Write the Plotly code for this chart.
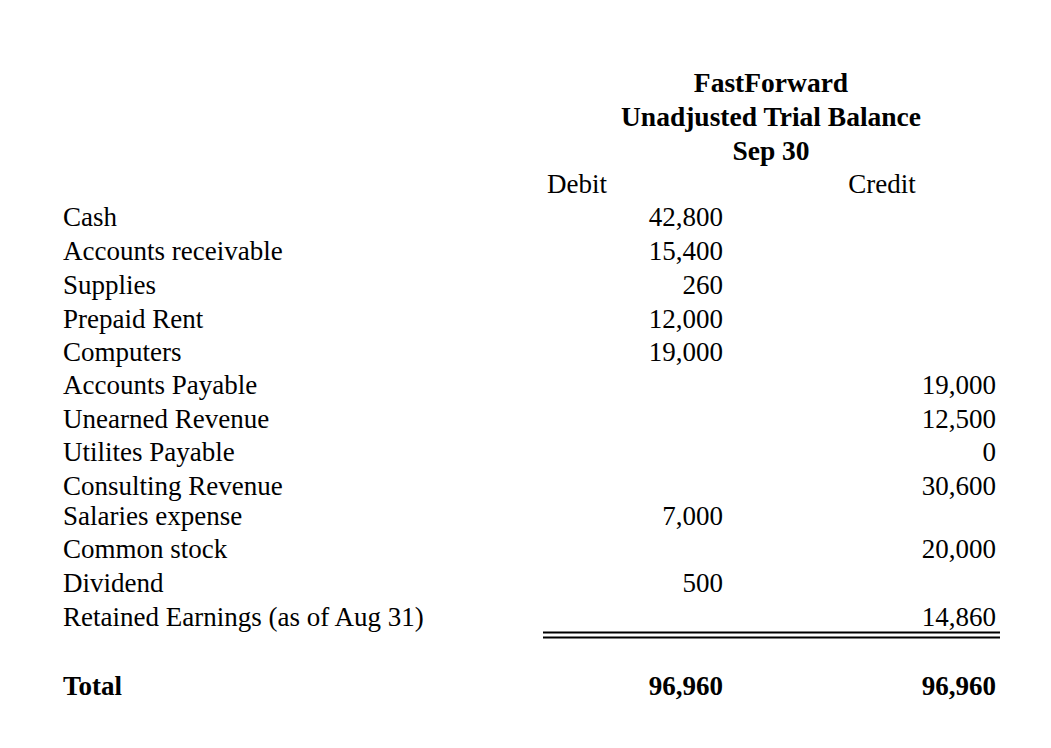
import plotly.graph_objects as go

# trial balance data
accounts = ["Cash", "Accounts receivable", "Supplies", "Prepaid Rent", "Computers",
            "Accounts Payable", "Unearned Revenue", "Utilites Payable",
            "Consulting Revenue", "Salaries expense", "Common stock", "Dividend",
            "Retained Earnings (as of Aug 31)"]
debit = ["42,800", "15,400", "260", "12,000", "19,000", "", "", "", "", "7,000", "", "500", ""]
credit = ["", "", "", "", "", "19,000", "12,500", "0", "30,600", "", "20,000", "", "14,860"]
total_label = "Total"
total_debit = "96,960"
total_credit = "96,960"
title_lines = ["FastForward", "Unadjusted Trial Balance", "Sep 30"]
col_headers = ["Debit", "Credit"]

# layout (pixel positions in the 1051x748 window; page body has an 8px margin)
W, H = 1051, 748
PAD = 8
row_y = [219, 253, 287, 321, 354, 387, 421, 454, 488, 518, 551, 585, 619]
total_y = 688
title_y = [85, 119, 153]
header_y = 186
label_x = 63
debit_x = 723
credit_x = 996
header_x = [577, 882]
title_x = 771
FONT = "Liberation Serif, Times New Roman, serif"
FS = 27

fig = go.Figure()

fig.add_trace(go.Scatter(x=[label_x] * len(accounts), y=row_y, text=accounts,
                         mode="text", textposition="middle right",
                         textfont=dict(family=FONT, size=FS, color="black")))
fig.add_trace(go.Scatter(x=[debit_x] * len(debit), y=row_y, text=debit,
                         mode="text", textposition="middle left",
                         textfont=dict(family=FONT, size=FS, color="black")))
fig.add_trace(go.Scatter(x=[credit_x] * len(credit), y=row_y, text=credit,
                         mode="text", textposition="middle left",
                         textfont=dict(family=FONT, size=FS, color="black")))

# totals row (bold)
fig.add_trace(go.Scatter(x=[label_x], y=[total_y], text=[f"<b>{total_label}</b>"],
                         mode="text", textposition="middle right",
                         textfont=dict(family=FONT, size=FS, color="black")))
fig.add_trace(go.Scatter(x=[debit_x, credit_x], y=[total_y, total_y],
                         text=[f"<b>{total_debit}</b>", f"<b>{total_credit}</b>"],
                         mode="text", textposition="middle left",
                         textfont=dict(family=FONT, size=FS, color="black")))

# titles and column headers
fig.add_trace(go.Scatter(x=[title_x] * 3, y=title_y, text=[f"<b>{t}</b>" for t in title_lines],
                         mode="text", textposition="middle center",
                         textfont=dict(family=FONT, size=27.5, color="black")))
fig.add_trace(go.Scatter(x=header_x, y=[header_y] * 2, text=col_headers,
                         mode="text", textposition="middle center",
                         textfont=dict(family=FONT, size=FS, color="black")))

# double underline above totals
for yy in (632.5, 637.5):
    fig.add_shape(type="line", x0=543, x1=1000, y0=yy, y1=yy,
                  line=dict(color="black", width=2))

fig.update_layout(width=W - 2 * PAD, height=H - 2 * PAD, margin=dict(l=0, r=0, t=0, b=0),
                  plot_bgcolor="#ffffff", paper_bgcolor="#ffffff", showlegend=False,
                  xaxis=dict(range=[PAD, W - PAD], visible=False, fixedrange=True),
                  yaxis=dict(range=[H - PAD, PAD], visible=False, fixedrange=True))

fig.write_html("out.html", config={"displayModeBar": False})
